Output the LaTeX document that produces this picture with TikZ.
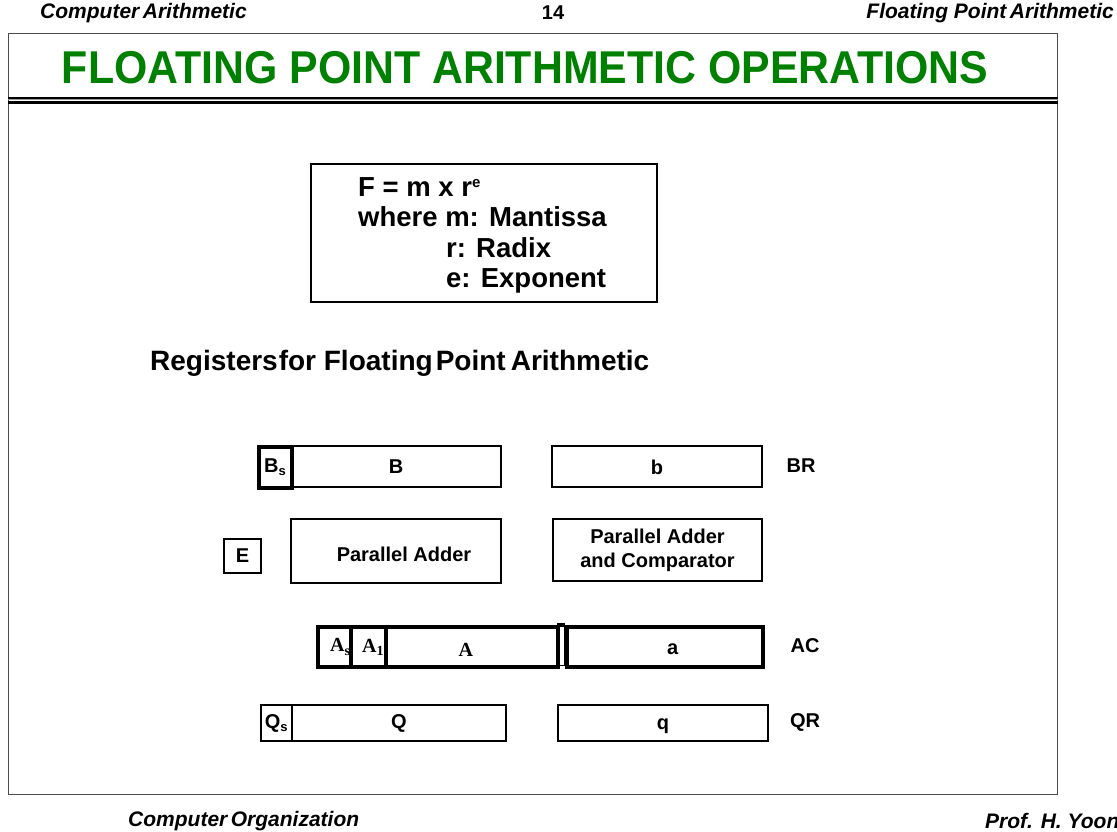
\documentclass[tikz,border=0pt]{standalone}
\usepackage{fontspec}
\setmainfont{Liberation Sans}
\newfontfamily\serifbf{Liberation Serif}
\definecolor{titlegreen}{RGB}{0,128,0}
\begin{document}
\begin{tikzpicture}[x=1pt,y=-1pt,
  lbl/.style={font=\fontsize{20}{24}\selectfont\bfseries, inner sep=0pt},
  hdr/.style={font=\fontsize{21}{24}\selectfont\bfseries\itshape, inner sep=0pt},
  reg/.style={draw, line width=2pt, inner sep=0pt},
  regthick/.style={draw, line width=3.5pt, inner sep=0pt},
  serl/.style={font=\fontsize{20}{24}\selectfont\serifbf\bfseries, inner sep=0pt}]
\useasboundingbox (0,0) rectangle (1117,832);
% header
\node[hdr, anchor=west] (h1) at (40,13) {Computer\,Arithmetic};
\node[lbl] (h2) at (553,13) {14};
\node[hdr, anchor=east] (h3) at (1114,13) {Floating Point\,Arithmetic};
% frame
\node[draw=black!70, line width=1pt, minimum width=1049pt, minimum height=761pt, anchor=north west, inner sep=0pt] (frame) at (8,33) {};
\draw[line width=1.5pt] (frame.west |- 0,98) coordinate (r1a) -- (frame.east |- 0,98) coordinate (r1b);
\draw[black!40, line width=1pt] (r1a |- 0,100) -- (r1b |- 0,100);
\draw[line width=3pt] (r1a |- 0,102.5) -- (r1b |- 0,102.5);
% title
\node[font=\fontsize{46}{50}\selectfont\bfseries, text=titlegreen, xscale=0.931, inner sep=0pt] (title) at (525,68) {FLOATING POINT ARITHMETIC OPERATIONS};
% formula box
\node[draw, line width=2pt, minimum width=346pt, minimum height=138pt, anchor=north west, inner sep=0pt] (fbox) at (310,163) {};
\node[font=\fontsize{27.5}{30.5}\selectfont\bfseries, anchor=north west, align=left, inner sep=0pt] (ftext) at (358,177)
 {F = m x r\textsuperscript{\fontsize{15}{15}\selectfont e}\\where m: Mantissa\\\hspace{88pt}r: Radix\\\hspace{88pt}e: Exponent};
% registers heading
\node[font=\fontsize{28}{32}\selectfont\bfseries, anchor=west, inner sep=0pt] (rhead) at (150,363) {Registers\hspace{1pt}for Floating\hspace{3pt}Point\hspace{5pt}Arithmetic};
% BR row
\node[reg, minimum width=210pt, minimum height=41pt, anchor=north west] (B) at (290,445) {};
\node[regthick, minimum width=33pt, minimum height=41pt, anchor=north west] (Bs) at (257,445) {};
\node[lbl] at (Bs.center) {B\textsubscript{\fontsize{13}{13}\selectfont s}};
\node[lbl] at (B.center) {B};
\node[reg, minimum width=210pt, minimum height=41pt, anchor=north west] (b) at (551,445) {};
\node[lbl] at ([yshift=-1pt]b.center) {b};
\node[lbl] (BR) at (801,466) {BR};
% adders
\node[reg, minimum width=37pt, minimum height=34pt, anchor=north west] (E) at (223,538) {};
\node[lbl] at (E.center) {E};
\node[reg, minimum width=210pt, minimum height=64pt, anchor=north west] (pa) at (290,518) {};
\node[lbl] at ([xshift=8pt,yshift=-3pt]pa.center) {Parallel Adder};
\node[reg, minimum width=209pt, minimum height=62pt, anchor=north west] (pac) at (552,518) {};
\node[lbl, align=center] at (pac.center) {Parallel Adder\\and Comparator};
% AC row
\node[serl, anchor=west] at (330,647) {A\textsubscript{s}};
\node[serl, anchor=west] at (362,647) {A\textsubscript{1}};
\node[regthick, minimum width=33pt, minimum height=40pt, anchor=north west] (As) at (316,625) {};
\node[regthick, minimum width=35pt, minimum height=40pt, anchor=north west] (A1) at (349,625) {};
\node[regthick, minimum width=172pt, minimum height=40pt, anchor=north west] (A) at (384,625) {};
\node[serl] at ([xshift=-6pt,yshift=-3pt]A.center) {A};
\node[draw, line width=1pt, minimum width=7pt, minimum height=40pt, anchor=north west, inner sep=0pt] (gap) at (557,625) {};
\draw[line width=3.5pt] (gap.north west) -- (gap.north east);
\node[regthick, minimum width=196pt, minimum height=40pt, anchor=north west] (a) at (565,625) {};
\node[lbl] at ([xshift=8pt,yshift=-2pt]a.center) {a};
\node[lbl] (AC) at (805,646) {AC};
% QR row
\node[reg, minimum width=214pt, minimum height=36pt, anchor=north west] (Q) at (291,704) {};
\node[reg, minimum width=31pt, minimum height=36pt, anchor=north west] (Qs) at (260,704) {};
\node[lbl] at (Qs.center) {Q\textsubscript{\fontsize{13}{13}\selectfont s}};
\node[lbl] at (Q.center) {Q};
\node[reg, minimum width=210pt, minimum height=36pt, anchor=north west] (q) at (557,704) {};
\node[lbl] at ([yshift=-3pt]q.center) {q};
\node[lbl] (QR) at (805,722) {QR};
% footer
\node[hdr, anchor=west] (f1) at (128,821) {Computer\,Organization};
\node[hdr, anchor=west] (f2) at (985,821) {Prof. H. Yoon};
\end{tikzpicture}
\end{document}
